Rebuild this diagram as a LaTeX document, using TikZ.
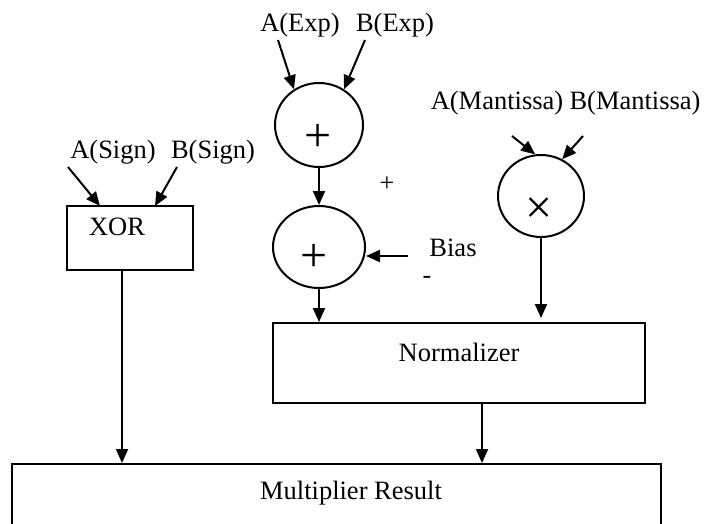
\documentclass[tikz,border=0pt]{standalone}
\usepackage{fontspec}
\setmainfont{Liberation Serif}
\usetikzlibrary{arrows.meta,shapes.geometric}
\begin{document}
\begin{tikzpicture}[x=1pt,y=-1pt,
  txt/.style={font=\fontsize{26.5}{30}\selectfont, inner sep=0pt},
  sym/.style={font=\fontsize{48}{50}\selectfont, inner sep=0pt},
  smallsym/.style={font=\fontsize{26}{28}\selectfont, inner sep=0pt},
  blk/.style={draw, line width=2pt, rectangle, inner sep=0pt},
  op/.style={draw, line width=2pt, ellipse, inner sep=0pt},
  arr/.style={line width=2pt, -{Triangle[length=14pt,width=12pt]}}]
\useasboundingbox (0,0) rectangle (706,523);
% texts
\node[txt] (aexp) at (300,25) {A(Exp)};
\node[txt] (bexp) at (395,25) {B(Exp)};
\node[txt] (asign) at (113,152) {A(Sign)};
\node[txt] (bsign) at (213,152) {B(Sign)};
\node[txt] (aman) at (497,103) {A(Mantissa)};
\node[txt] (bman) at (635,103) {B(Mantissa)};
\node[txt] (bias) at (453,248) {Bias};
\node[smallsym] (plus) at (387,184) {+};
\node[smallsym] (minus) at (427,280) {-};
% blocks
\node[op, minimum width=88pt, minimum height=84pt] (c1) at (319,125) {};
\node[sym] (c1sym) at (318,138) {+};
\node[op, minimum width=92pt, minimum height=82pt] (c2) at (319,247) {};
\node[sym] (c2sym) at (314,258) {+};
\node[op, minimum width=86pt, minimum height=82pt] (c3) at (541,196) {};
\node[sym] (c3sym) at (539,211) {×};
\node[blk, minimum width=126pt, minimum height=64pt] (xor) at (130,238) {};
\node[txt] (xortext) at (117,227) {XOR};
\node[blk, minimum width=372pt, minimum height=80pt] (norm) at (459,363) {};
\node[txt] (normtext) at (459,352) {Normalizer};
\node[blk, minimum width=649pt, minimum height=70pt] (mult) at (336.5,499) {};
\node[txt] (multtext) at (351,493) {Multiplier Result};
% coordinates
\coordinate (aexps) at (278,40);
\coordinate (bexps) at (365,40);
\coordinate (asigns) at (68,167);
\coordinate (bsigns) at (177,167);
\coordinate (amans) at (512,136);
\coordinate (bmans) at (583,136);
\coordinate (biass) at (408,256);
\coordinate (xorout) at (122,270);
\coordinate (normout) at (482,403);
\coordinate (xorin1) at (100,206);
\coordinate (xorin2) at (155,206);
% connectors
\draw[arr] (aexps) -- (c1.125);
\draw[arr] (bexps) -- (c1.55);
\draw[arr] (c1.south) -- (c2.north);
\draw[arr] (biass) -- (biass -| c2.east);
\draw[arr] (c2.south) -- (c2.south |- norm.north);
\draw[arr] (amans) -- (c3.98);
\draw[arr] (bmans) -- (c3.60);
\draw[arr] (c3.south) -- ([yshift=4pt]c3.south |- norm.north);
\draw[arr] (asigns) -- (xorin1);
\draw[arr] (bsigns) -- (xorin2);
\draw[arr] (xorout) -- (xorout |- mult.north);
\draw[arr] (normout) -- (normout |- mult.north);
\end{tikzpicture}
\end{document}
